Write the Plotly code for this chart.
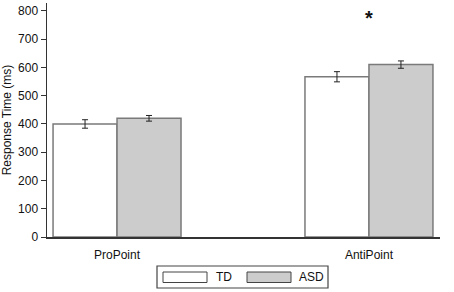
import plotly.graph_objects as go

# ---- data ----
conditions = ["ProPoint", "AntiPoint"]
groups = ["TD", "ASD"]
td_means = [400, 567]
td_err = [15, 18]
asd_means = [420, 610]
asd_err = [10, 13]
sig_labels = ["", "*"]
sig_y = [None, 775]
y_ticks = [0, 100, 200, 300, 400, 500, 600, 700, 800]

W, H = 454, 292
L, R, T, B = 47, 14, 3, 55
x_pos = list(range(len(conditions)))

fills = ["#ffffff", "#cccccc"]
edge = "#7a7a7a"
axis_col = "#333333"
font_fam = "Liberation Sans, Arial, sans-serif"

fig = go.Figure()
for name, means, errs, fill in zip(groups, [td_means, asd_means], [td_err, asd_err], fills):
    fig.add_trace(go.Bar(
        x=x_pos, y=means, name=name,
        marker=dict(color=fill, line=dict(color=edge, width=1.5)),
        error_y=dict(type="data", array=errs, visible=True, color="#222222",
                     thickness=1, width=3),
        showlegend=False,
    ))

# significance marker
for xi, lab, yy in zip(x_pos, sig_labels, sig_y):
    if lab:
        fig.add_annotation(x=xi, y=yy, text="<b>" + lab + "</b>", showarrow=False,
                           font=dict(size=20, color="#111111", family=font_fam))

# custom legend (pixel -> paper helpers)
pw, ph = W - L - R, H - T - B
def px(x):
    return (x - L) / pw
def py(y):
    return (H - B - y) / ph

fig.add_shape(type="rect", xref="paper", yref="paper",
              x0=px(157), x1=px(328), y0=py(288), y1=py(266),
              line=dict(color="#444444", width=1.2), fillcolor="white")
sw_x = [163, 247]
txt_x = [214, 297]
for name, fill, sx, tx in zip(groups, fills, sw_x, txt_x):
    fig.add_shape(type="rect", xref="paper", yref="paper",
                  x0=px(sx), x1=px(sx + 44), y0=py(282.5), y1=py(272),
                  line=dict(color="#444444", width=1), fillcolor=fill)
    fig.add_annotation(xref="paper", yref="paper", x=px(tx), y=py(277),
                       text=name, showarrow=False, xanchor="left", yanchor="middle",
                       font=dict(size=12, color="#111111", family=font_fam))

fig.update_layout(
    width=W, height=H,
    margin=dict(l=L, r=R, t=T, b=B, autoexpand=False),
    paper_bgcolor="white", plot_bgcolor="white",
    barmode="group", bargap=0.492, bargroupgap=0,
    font=dict(family=font_fam, size=12, color="#111111"),
    showlegend=False,
)
fig.update_xaxes(
    range=[-0.278, 1.282], tickvals=x_pos, ticktext=conditions,
    showline=True, linecolor=axis_col, linewidth=1.5,
    ticks="", showgrid=False, zeroline=False, automargin=False,
    tickfont=dict(size=12), ticklabelstandoff=6,
)
fig.update_yaxes(
    range=[0, 828], tickvals=y_ticks,
    showline=True, linecolor=axis_col, linewidth=1.5,
    ticks="outside", ticklen=5, tickcolor=axis_col, tickwidth=1,
    showgrid=False, zeroline=False, automargin=False,
    tickfont=dict(size=12),
    title=dict(text="Response Time (ms)", font=dict(size=12), standoff=8),
)

fig.write_html("out.html", config={"displayModeBar": False, "staticPlot": True})

# remove default page margin so the figure sits at the window origin
with open("out.html", "r", encoding="utf-8") as f:
    html = f.read()
html = html.replace("<body>", '<body style="margin:0;padding:0;overflow:hidden">', 1)
with open("out.html", "w", encoding="utf-8") as f:
    f.write(html)
